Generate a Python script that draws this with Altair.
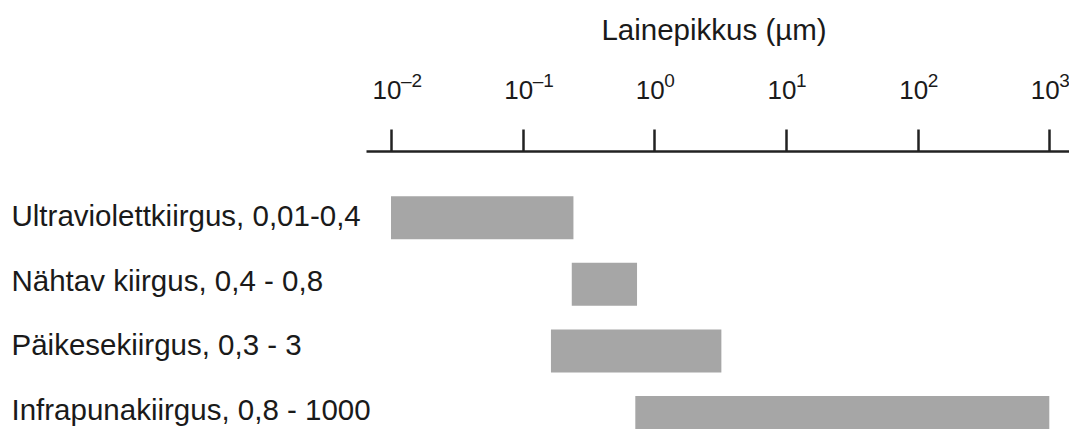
import altair as alt
import pandas as pd

# ---- data ----
categories = [
    "Ultraviolettkiirgus, 0,01-0,4",
    "Nähtav kiirgus, 0,4 - 0,8",
    "Päikesekiirgus, 0,3 - 3",
    "Infrapunakiirgus, 0,8 - 1000",
]
starts = [0.01, 0.236, 0.164, 0.717]
ends = [0.243, 0.739, 3.23, 1000]

tick_values = [0.01, 0.1, 1, 10, 100, 1000]
tick_bases = ["10", "10", "10", "10", "10", "10"]
tick_exponents = ["–2", "–1", "0", "1", "2", "3"]

axis_title = "Lainepikkus (µm)"
axis_domain = [0.006457, 1513.6]

FONT = "Liberation Sans"
TEXT = "#1a1a1a"

bars_df = pd.DataFrame({"kiirgus": categories, "algus": starts, "lopp": ends})
ticks_df = pd.DataFrame({"v": tick_values, "base": tick_bases, "exp": tick_exponents})

xscale = alt.Scale(type="log", domain=axis_domain, range=[358, 1065], nice=False)
yscale_bars = alt.Scale(domain=categories, range=[33.4, 299.8],
                        paddingInner=0.354, paddingOuter=0.177)
yscale_labels = alt.Scale(domain=categories, range=[33.75, 291.75],
                          paddingInner=0.354, paddingOuter=0.177)

x_axis = alt.Axis(
    orient="top", values=tick_values, labels=False, grid=False,
    tickSize=22, tickWidth=2.5, tickColor="#222", domainColor="#222", domainWidth=2.5,
    title=axis_title, titleFont=FONT, titleFontSize=29.5, titleFontWeight="normal",
    titleColor=TEXT, titleX=705.5, titleY=-111.7, titleBaseline="alphabetic",
    titleAlign="center",
)

bars = alt.Chart(bars_df).mark_bar(color="#a6a6a6").encode(
    x=alt.X("algus:Q", scale=xscale, axis=x_axis, title=axis_title),
    x2="lopp:Q",
    y=alt.Y("kiirgus:N", scale=yscale_bars, axis=None, sort=categories),
)

labels = alt.Chart(bars_df).mark_text(
    align="left", baseline="middle", font=FONT, fontSize=29.5, color=TEXT
).encode(
    x=alt.value(3.5),
    y=alt.Y("kiirgus:N", scale=yscale_labels, axis=None, sort=categories),
    text="kiirgus:N",
)

tick_base = alt.Chart(ticks_df).mark_text(
    align="center", baseline="alphabetic", font=FONT, fontSize=26, color=TEXT, dx=-4
).encode(
    x=alt.X("v:Q", scale=xscale, axis=x_axis, title=axis_title),
    y=alt.value(-52),
    text="base:N",
)

tick_exp = alt.Chart(ticks_df).mark_text(
    align="left", baseline="alphabetic", font=FONT, fontSize=19, color=TEXT, dx=10
).encode(
    x=alt.X("v:Q", scale=xscale, axis=x_axis, title=axis_title),
    y=alt.value(-64),
    text="exp:N",
)

chart = alt.layer(bars, labels, tick_base, tick_exp).resolve_scale(
    y="independent"
).properties(
    width=1061,
    height=278,
    autosize=alt.AutoSizeParams(type="none"),
    padding={"left": 0, "top": 143, "right": 0, "bottom": 0},
).configure_view(stroke=None)

chart.save("out.html", embed_options={"renderer": "svg", "actions": False})
